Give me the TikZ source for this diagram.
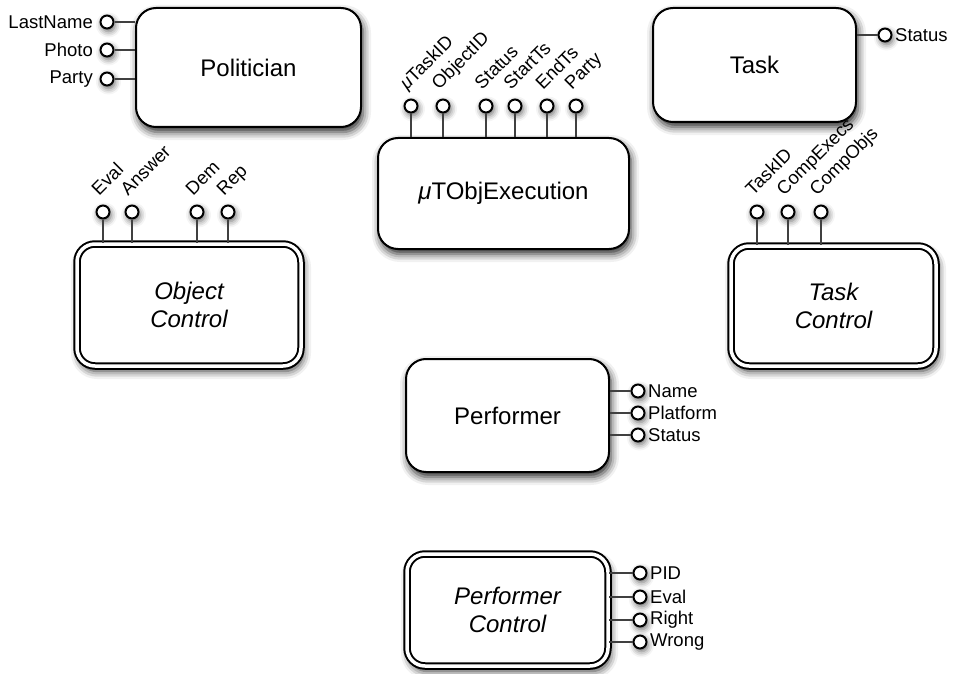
\documentclass[tikz,border=0pt]{standalone}
\usepackage{fontspec}
\setmainfont{Liberation Sans}
\usetikzlibrary{shadows.blur,backgrounds,calc}
\begin{document}
\begin{tikzpicture}[x=1pt,y=-1pt,
 ent/.style={draw, line width=2pt, rounded corners=20pt, fill=white, align=center, inner sep=0pt,
   font=\fontsize{24}{28}\selectfont,
   blur shadow={shadow xshift=2pt, shadow yshift=-5pt, shadow blur radius=8pt, shadow opacity=85}},
 ctl/.style={draw, line width=2pt, double=white, double distance=3.5pt, fill=white, rounded corners=18pt,
   align=center, inner sep=0pt, font=\fontsize{24}{28}\selectfont\itshape,
   blur shadow={shadow xshift=2pt, shadow yshift=-5pt, shadow blur radius=8pt, shadow opacity=85}},
 att/.style={circle, draw, line width=2pt, fill=white, minimum size=13pt, inner sep=0pt,
   blur shadow={shadow xshift=1.5pt, shadow yshift=-3pt, shadow blur radius=6pt, shadow opacity=60}},
 lbl/.style={font=\fontsize{18.5}{21}\selectfont, inner sep=1.5pt},
 rlbl/.style={font=\fontsize{18.5}{21}\selectfont, rotate=45, anchor=base west, inner sep=0pt},
 link/.style={line width=2pt},
 stem/.style={line width=1.3pt, black!75}]
\useasboundingbox (0,0) rectangle (953,674);

% entities
\node[ent, minimum width=225pt, minimum height=119pt] (pol) at (248.5,67.5) {Politician};
\node[ent, minimum width=203pt, minimum height=114pt] (task) at (754.5,65) {Task};
\node[ent, minimum width=251pt, minimum height=111pt] (mu) at (503.5,193.5) {{\itshape μ}TObjExecution};
\node[ent, minimum width=203pt, minimum height=113pt] (perf) at (507.5,415.5) {Performer};
\node[ctl, minimum width=224pt, minimum height=122pt] (objc) at (189,305) {Object\\Control};
\node[ctl, minimum width=205pt, minimum height=120pt] (taskc) at (833.5,306) {Task\\Control};
\node[ctl, minimum width=201pt, minimum height=112pt] (perfc) at (507.5,610) {Performer\\Control};

% connectors
\begin{scope}[on background layer]
\draw[link] (pol.center) -- (mu.center);
\draw[link] (task.center) -- (mu.center);
\draw[link] (perf.center) -- (perf.center |- mu.center);
\end{scope}

% Politician attributes
\foreach \n/\y/\t in {ln/22/LastName, ph/50/Photo, pa/79/Party} {
  \node[att] (\n) at (107,\y) {};
  \node[lbl, anchor=east] (\n-l) at ($(\n.west)+(-5,0)$) {\t};
  \draw[stem] (\n.east) -- (\n.east -| pol.west);
}

% Task attribute
\node[att] (ts) at (885,35) {};
\node[lbl, anchor=west] (ts-l) at ($(ts.east)+(1,0)$) {Status};
\draw[stem] (ts.west) -- (ts.west -| task.east);

% muTObjExecution attributes
\foreach \n/\x/\t in {mt/411/{{\itshape μ}TaskID}, mo/443/ObjectID, ms/486/Status, mst/515/StartTs, me/547/EndTs, mp/576/Party} {
  \node[att] (\n) at (\x,106) {};
  \node[rlbl] (\n-l) at ($(\n.north)+(-4,-8)$) {\t};
  \draw[stem] (\n.south) -- (\n.south |- mu.north);
}

% Object Control attributes
\foreach \n/\x/\t in {oe/103/Eval, oa/132/Answer, od/197/Dem, or/228/Rep} {
  \node[att] (\n) at (\x,212) {};
  \node[rlbl] (\n-l) at ($(\n.north)+(-4,-8)$) {\t};
  \draw[stem] (\n.south) -- (\n.south |- objc.north);
}

% Task Control attributes
\foreach \n/\x/\t in {tt/757/TaskID, tc/788/CompExecs, to/821/CompObjs} {
  \node[att] (\n) at (\x,212) {};
  \node[rlbl] (\n-l) at ($(\n.north)+(-4,-8)$) {\t};
  \draw[stem] (\n.south) -- (\n.south |- taskc.north);
}

% Performer attributes
\foreach \n/\y/\t in {pn/391/Name, ppl/413/Platform, pst/435/Status} {
  \node[att] (\n) at (638,\y) {};
  \node[lbl, anchor=west] (\n-l) at ($(\n.east)+(1,0)$) {\t};
  \draw[stem] (\n.west) -- (\n.west -| perf.east);
}

% Performer Control attributes
\foreach \n/\y/\t in {cp/573/PID, ce/597/Eval, cr/620/Right, cw/642/Wrong} {
  \node[att] (\n) at (640,\y) {};
  \node[lbl, anchor=west] (\n-l) at ($(\n.east)+(1,0)$) {\t};
  \draw[stem] (\n.west) -- (\n.west -| perfc.east);
}
\end{tikzpicture}
\end{document}
